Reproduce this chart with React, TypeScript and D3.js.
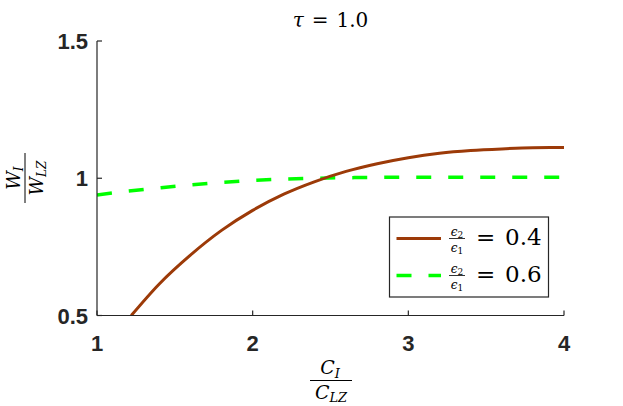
import React from "react";
import * as d3 from "d3";

const xTicks = [1, 2, 3, 4];
const yTicks = [0.5, 1, 1.5];
const yTickLabels = ["0.5", "1", "1.5"];

const seriesX = [1.0, 1.2, 1.4, 1.6, 1.8, 2.0, 2.2, 2.4, 2.6, 2.8, 3.0, 3.2, 3.4, 3.6, 3.8, 4.0];
const brownX = [1.22, 1.4, 1.6, 1.8, 2.0, 2.2, 2.4, 2.6, 2.8, 3.0, 3.2, 3.4, 3.6, 3.8, 4.0];
const brownY = [0.5, 0.615, 0.72, 0.81, 0.883, 0.942, 0.988, 1.025, 1.053, 1.075, 1.091, 1.101, 1.107, 1.111, 1.112];
const greenY = [0.939, 0.953, 0.965, 0.976, 0.985, 0.992, 0.997, 1.0, 1.002, 1.003, 1.004, 1.004, 1.004, 1.004, 1.004, 1.004];

const W = 623, H = 406;
const L = 97, R = 564, T = 41, B = 315.5;
const axisColor = "#262626";
const brown = "#9c3a08";
const green = "#00ff00";
const serif = "'DejaVu Serif', 'Liberation Serif', serif";
const sans = "'Liberation Sans', Arial, sans-serif";

export default function App() {
  const x = d3.scaleLinear().domain([1, 4]).range([L, R]);
  const y = d3.scaleLinear().domain([0.5, 1.5]).range([B, T]);
  const line = d3.line<[number, number]>().x(d => x(d[0])).y(d => y(d[1])).curve(d3.curveMonotoneX);
  const brownPath = line(brownX.map((v, i) => [v, brownY[i]]) as [number, number][]) || "";
  const greenPath = line(seriesX.map((v, i) => [v, greenY[i]]) as [number, number][]) || "";

  const legX = 389.5, legY = 217, legW = 159, legH = 80;
  const rows = [
    { color: brown, dash: undefined as string | undefined, w: 3, val: "0.4", cy: 238.5 },
    { color: green, dash: "15 17", w: 3.5, val: "0.6", cy: 275.5 },
  ];

  return (
    <svg width={W} height={H} style={{ position: "absolute", left: 0, top: 0, display: "block", background: "#fff" }}>
      <defs>
        <clipPath id="plotclip">
          <rect x={L} y={T} width={R - L} height={B - T} />
        </clipPath>
      </defs>
      <rect x={0} y={0} width={W} height={H} fill="#fff" />
      {/* title */}
      <text x={(L + R) / 2} y={27} textAnchor="middle" fontFamily={serif} fontSize={20}>
        <tspan fontStyle="italic">τ</tspan>
        <tspan dx={8}>=</tspan>
        <tspan dx={8}>1.0</tspan>
      </text>
      {/* lines */}
      <g clipPath="url(#plotclip)">
        <path d={greenPath} fill="none" stroke={green} strokeWidth={3.5} strokeDasharray="15 17" />
        <path d={brownPath} fill="none" stroke={brown} strokeWidth={3} />
      </g>
      {/* axes */}
      <line x1={L} x2={R} y1={B} y2={B} stroke={axisColor} strokeWidth={1.2} />
      <line x1={L} x2={L} y1={T} y2={B} stroke={axisColor} strokeWidth={1.2} />
      {xTicks.map(t => (
        <g key={"x" + t}>
          <line x1={x(t)} x2={x(t)} y1={B} y2={B - 5} stroke={axisColor} strokeWidth={1.2} />
          <text x={x(t)} y={B + 35} textAnchor="middle" fontFamily={sans} fontWeight="bold" fontSize={22} fill={axisColor}>{t}</text>
        </g>
      ))}
      {yTicks.map((t, i) => (
        <g key={"y" + t}>
          <line x1={L} x2={L + 5} y1={y(t)} y2={y(t)} stroke={axisColor} strokeWidth={1.2} />
          <text x={L - 9} y={y(t) + 8} textAnchor="end" fontFamily={sans} fontWeight="bold" fontSize={22} fill={axisColor}>{yTickLabels[i]}</text>
        </g>
      ))}
      {/* x label */}
      <g fontFamily={serif} fill="#000">
        <text x={330} y={374} textAnchor="middle" fontSize={19}>
          <tspan fontStyle="italic">C</tspan>
          <tspan fontStyle="italic" fontSize={13} dy={4}>I</tspan>
        </text>
        <line x1={310} x2={352} y1={380.5} y2={380.5} stroke="#000" strokeWidth={1} />
        <text x={331} y={399} textAnchor="middle" fontSize={19}>
          <tspan fontStyle="italic">C</tspan>
          <tspan fontStyle="italic" fontSize={13} dy={3}>LZ</tspan>
        </text>
      </g>
      {/* y label */}
      <g transform="translate(25,178) rotate(-90)" fontFamily={serif} fill="#000">
        <text x={0} y={-5} textAnchor="middle" fontSize={18}>
          <tspan fontStyle="italic">W</tspan>
          <tspan fontStyle="italic" fontSize={12} dy={3}>I</tspan>
        </text>
        <line x1={-25} x2={25} y1={0} y2={0} stroke="#000" strokeWidth={1} />
        <text x={0} y={18} textAnchor="middle" fontSize={18}>
          <tspan fontStyle="italic">W</tspan>
          <tspan fontStyle="italic" fontSize={12} dy={3}>LZ</tspan>
        </text>
      </g>
      {/* legend */}
      <rect x={legX} y={legY} width={legW} height={legH} fill="#fff" stroke={axisColor} strokeWidth={1.2} />
      {rows.map((r, i) => (
        <g key={i}>
          <line x1={396.5} x2={441} y1={r.cy} y2={r.cy} stroke={r.color} strokeWidth={r.w} strokeDasharray={r.dash} />
          <g fontFamily={serif} fill="#000">
            <text x={457} y={r.cy - 3} textAnchor="middle" fontSize={12}>
              <tspan fontStyle="italic">ϵ</tspan>
              <tspan fontSize={9} dy={2}>2</tspan>
            </text>
            <line x1={449} x2={465} y1={r.cy} y2={r.cy} stroke="#000" strokeWidth={0.8} />
            <text x={457} y={r.cy + 13} textAnchor="middle" fontSize={12}>
              <tspan fontStyle="italic">ϵ</tspan>
              <tspan fontSize={9} dy={2}>1</tspan>
            </text>
            <text x={476} y={r.cy + 6} fontSize={23}>=</text>
            <text x={505} y={r.cy + 6} fontSize={23}>{r.val}</text>
          </g>
        </g>
      ))}
    </svg>
  );
}
